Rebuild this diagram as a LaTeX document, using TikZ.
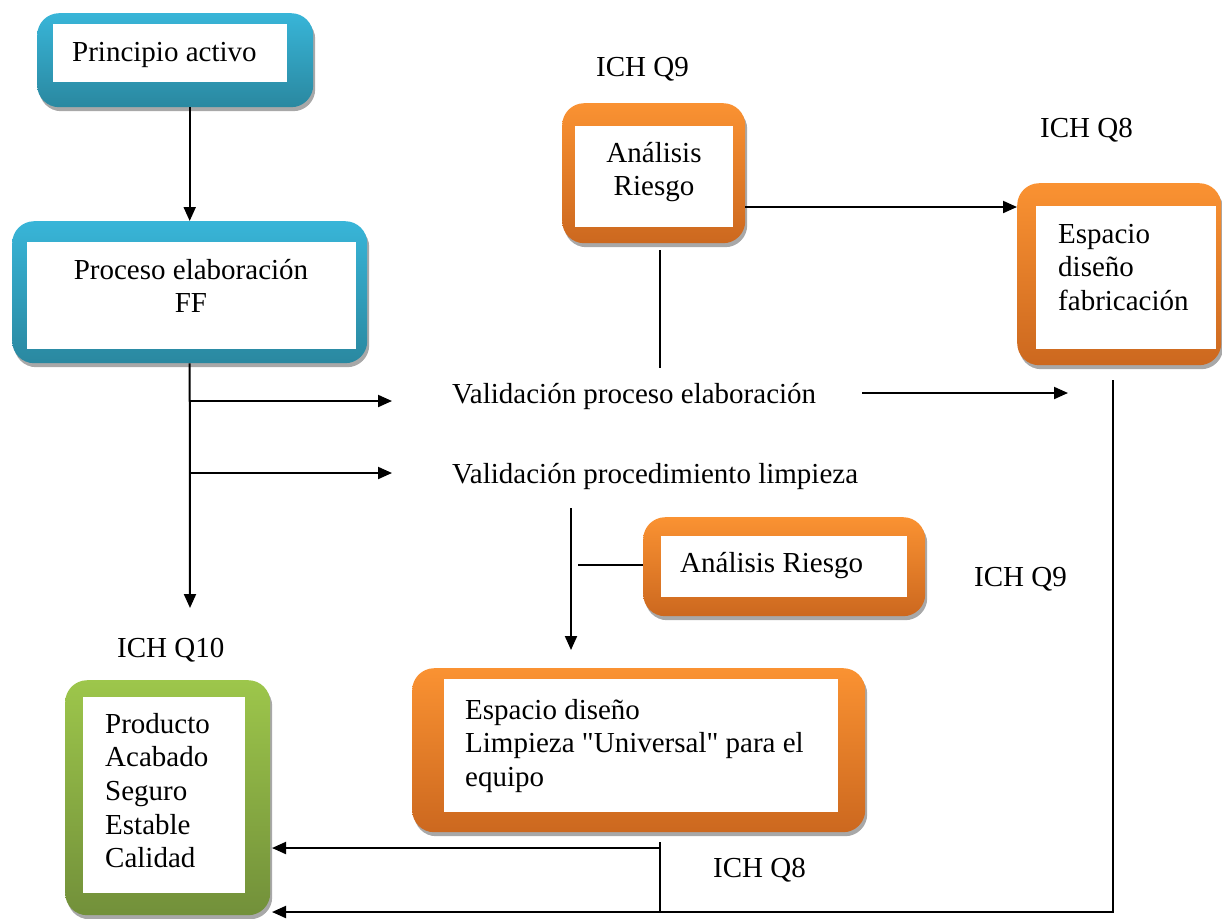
\documentclass[tikz,border=0pt]{standalone}
\usepackage{fontspec}
\setmainfont{Liberation Serif}
\newfontfamily\timesfont{Liberation Serif}
\usetikzlibrary{arrows.meta,shadows}
\definecolor{bluetop}{HTML}{38B5D8}
\definecolor{bluebot}{HTML}{2A88A0}
\definecolor{orgtop}{HTML}{FA9232}
\definecolor{orgbot}{HTML}{CC681F}
\definecolor{grntop}{HTML}{9DC64B}
\definecolor{grnbot}{HTML}{72903A}
\definecolor{shadowgray}{HTML}{A8A8A8}
\newcommand{\mlleft}[1]{\begin{tabular}[t]{@{}l@{}}#1\end{tabular}}
\newcommand{\mlcenter}[1]{\begin{tabular}[t]{@{}c@{}}#1\end{tabular}}
\tikzset{
  txt/.style={inner sep=0pt, font=\timesfont\fontsize{29}{33.7}\selectfont},
  outerbox/.style={rectangle, rounded corners=22pt, inner sep=0pt, anchor=north west,
    drop shadow={shadow xshift=2pt, shadow yshift=-4pt, fill=shadowgray, opacity=1}},
  bluebox/.style={outerbox, top color=bluetop, bottom color=bluebot},
  orangebox/.style={outerbox, top color=orgtop, bottom color=orgbot},
  greenbox/.style={outerbox, top color=grntop, bottom color=grnbot},
  innerbox/.style={rectangle, fill=white, inner sep=0pt, anchor=north west},
  conn/.style={line width=2pt},
  arr/.style={conn, -{Triangle[length=14pt,width=12pt]}},
}
\begin{document}
\begin{tikzpicture}[x=1pt,y=-1pt]
\useasboundingbox (0,0) rectangle (1222,918);

% boxes
\node[bluebox, minimum width=276pt, minimum height=94pt] (pa) at (37,13) {};
\node[innerbox, minimum width=234pt, minimum height=58pt] (pain) at (53,24) {};
\node[txt, anchor=base west] (patxt) at (72,61) {Principio activo};

\node[bluebox, minimum width=355pt, minimum height=142pt] (pe) at (12,221) {};
\node[innerbox, minimum width=329pt, minimum height=107pt] (pein) at (27,242) {};
\node[txt, anchor=base] (petxt) at (191,279) {\mlcenter{Proceso elaboración\\FF}};

\node[orangebox, minimum width=183pt, minimum height=140pt] (ar1) at (562,103) {};
\node[innerbox, minimum width=158pt, minimum height=101pt] (ar1in) at (575,126) {};
\node[txt, anchor=base] (ar1txt) at (654,162) {\mlcenter{Análisis\\Riesgo}};

\node[orangebox, minimum width=204pt, minimum height=182pt] (es) at (1017,183) {};
\node[innerbox, minimum width=180pt, minimum height=143pt] (esin) at (1036,206) {};
\node[txt, anchor=base west] (estxt) at (1058,243) {\mlleft{Espacio\\diseño\\fabricación}};

\node[orangebox, minimum width=282pt, minimum height=99pt] (ar2) at (643,517) {};
\node[innerbox, minimum width=246pt, minimum height=61pt] (ar2in) at (661,536) {};
\node[txt, anchor=base west] (ar2txt) at (680,572) {Análisis Riesgo};

\node[orangebox, minimum width=453pt, minimum height=164pt] (el) at (412,668) {};
\node[innerbox, minimum width=394pt, minimum height=133pt] (elin) at (444,679) {};
\node[txt, anchor=base west] (eltxt) at (465,719) {\mlleft{Espacio diseño\\Limpieza \symbol{34}Universal\symbol{34} para el\\equipo}};

\node[greenbox, minimum width=205pt, minimum height=235pt] (pr) at (65,680) {};
\node[innerbox, minimum width=162pt, minimum height=196pt] (prin) at (83,697) {};
\node[txt, anchor=base west] (prtxt) at (105,733) {\mlleft{Producto\\Acabado\\Seguro\\Estable\\Calidad}};

% free texts
\node[txt, anchor=base west] (vp) at (452,403) {Validación proceso elaboración};
\node[txt, anchor=base west] (vl) at (452,483) {Validación procedimiento limpieza};
\node[txt, anchor=base west] (q9a) at (596,76) {ICH Q9};
\node[txt, anchor=base west] (q8a) at (1040,137) {ICH Q8};
\node[txt, anchor=base west] (q9b) at (974,586) {ICH Q9};
\node[txt, anchor=base west] (q10) at (117,657) {ICH Q10};
\node[txt, anchor=base west] (q8b) at (713,877) {ICH Q8};

% coordinates
\coordinate (c1) at (190,608);
\coordinate (b1) at (190,401);
\coordinate (t1) at (392,401);
\coordinate (b2) at (190,473);
\coordinate (t2) at (392,473);
\coordinate (v1) at (862,393);
\coordinate (v2) at (1068,393);
\coordinate (h1) at (745,207);
\coordinate (r1) at (660,250);
\coordinate (r2) at (660,368);
\coordinate (d1) at (571,508);
\coordinate (d2) at (571,650);
\coordinate (a1) at (578,565);
\coordinate (e1) at (1113,380);
\coordinate (e2) at (1113,912);
\coordinate (p1) at (272,912);
\coordinate (f1) at (660,842);
\coordinate (f2) at (660,912);
\coordinate (g1) at (660,848);
\coordinate (p2) at (272,848);

% connectors
\draw[arr] (pe.north |- pa.south) -- (pe.north);
\draw[arr] (pe.south) -- (c1);
\draw[arr] (b1) -- (t1);
\draw[arr] (b2) -- (t2);
\draw[arr] (v1) -- (v2);
\draw[arr] (h1) -- (es.west |- h1);
\draw[conn] (r1) -- (r2);
\draw[arr] (d1) -- (d2);
\draw[conn] (a1) -- (ar2.west |- a1);
\draw[arr] (e1) -- (e2) -- (p1);
\draw[conn] (f1) -- (f2);
\draw[arr] (g1) -- (p2);
\end{tikzpicture}
\end{document}
